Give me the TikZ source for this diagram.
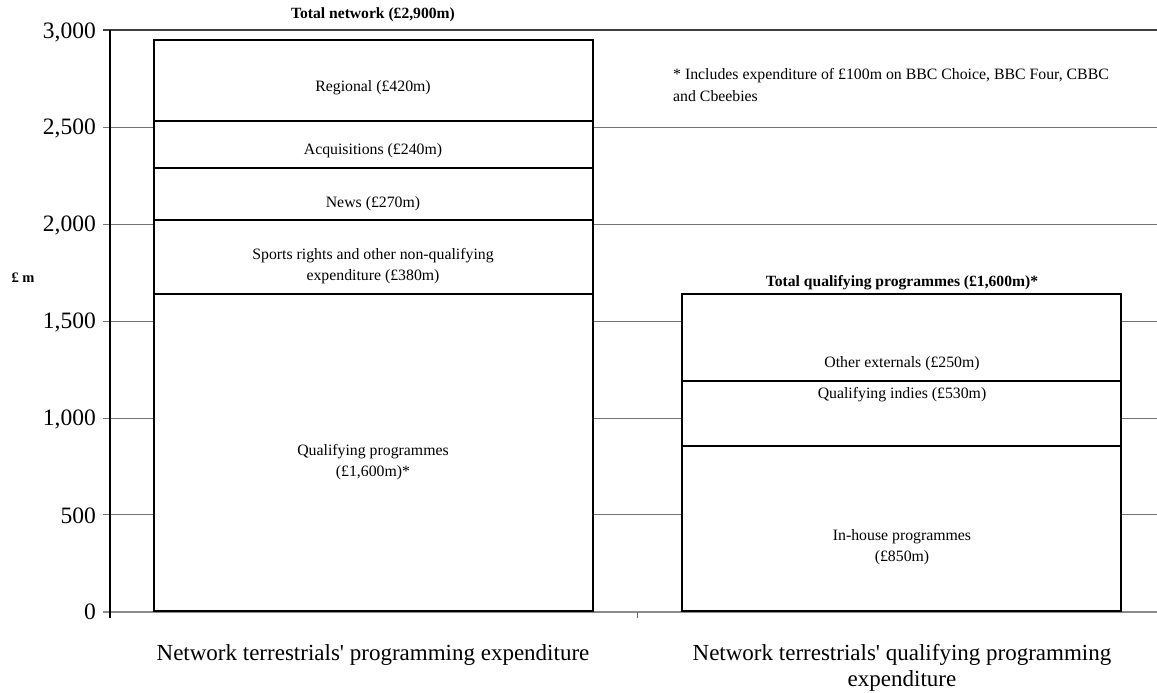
\documentclass[tikz,border=0pt]{standalone}
\usepackage{fontspec}
\setmainfont{Liberation Serif}
\begin{document}
\begin{tikzpicture}[x=1pt,y=-1pt,
  grid/.style={draw=black!55,line width=0.9pt},
  seg/.style={draw=black,fill=white,line width=1.6pt},
  div/.style={draw=black,line width=2.6pt},
  lbl/.style={font=\fontsize{15.8}{21.5}\selectfont,align=center,inner sep=0pt},
  ttl/.style={font=\fontsize{15.6}{18}\selectfont\bfseries,inner sep=0pt},
  tick/.style={font=\fontsize{23.5}{26}\selectfont,anchor=east,inner sep=0pt},
  cat/.style={font=\fontsize{23}{26}\selectfont,align=center,inner sep=0pt}]
\useasboundingbox (0,0) rectangle (1157,693);
\fill[white] (0,0) rectangle (1157,693);
% gridlines
\foreach \yy in {127,224,321,418,514} \draw[grid] (103,\yy) -- (1157,\yy);
\draw[draw=black!75,line width=1.2pt] (103,30) -- (1157,30);
% axes
\draw[draw=black!45,line width=2.4pt] (103,612) -- (1157,612);
\draw[black,line width=1.4pt] (110,30) -- (110,618);
\draw[black!60,line width=0.8pt] (637,612) -- (637,618);
% bar 1
\draw[seg] (154,40) rectangle (593,611);
\draw[div] (154,121) -- (593,121);
\draw[div] (154,168) -- (593,168);
\draw[div] (154,220) -- (593,220);
\draw[div] (154,294) -- (593,294);
% bar 2
\draw[seg] (682,294) rectangle (1121,611);
\draw[div] (682,381) -- (1121,381);
\draw[div] (682,446) -- (1121,446);
% tick labels
\node[tick] (t3000) at (96,32) {3,000};
\node[tick] (t2500) at (96,128) {2,500};
\node[tick] (t2000) at (96,225) {2,000};
\node[tick] (t1500) at (96,322) {1,500};
\node[tick] (t1000) at (96,419) {1,000};
\node[tick] (t500) at (96,516) {500};
\node[tick] (t0) at (96,612) {0};
\node[ttl,font=\fontsize{14.5}{17}\selectfont\bfseries] (unit) at (23,278) {£ m};
% labels bar 1
\node[ttl] (tot1) at (373,15) {Total network (£2,900m)};
\node[lbl] (reg) at (373,88) {Regional (£420m)};
\node[lbl] (acq) at (373,151) {Acquisitions (£240m)};
\node[lbl] (news) at (373,204) {News (£270m)};
\node[lbl] (sport) at (373,266) {Sports rights and other non-qualifying\\expenditure (£380m)};
\node[lbl] (qual) at (373,462) {Qualifying programmes\\(£1,600m)*};
% labels bar 2
\node[ttl] (tot2) at (902,283) {Total qualifying programmes (£1,600m)*};
\node[lbl] (oth) at (902,364) {Other externals (£250m)};
\node[lbl] (ind) at (902,395) {Qualifying indies (£530m)};
\node[lbl] (inh) at (902,547) {In-house programmes\\(£850m)};
% footnote
\node[lbl,align=left,anchor=west] (note) at (673,85) {* Includes expenditure of £100m on BBC Choice, BBC Four, CBBC\\and Cbeebies};
% categories
\node[cat] (c1) at (373,655) {Network terrestrials\textquotesingle{} programming expenditure};
\node[cat] (c2) at (902,668) {Network terrestrials\textquotesingle{} qualifying programming\\expenditure};
\end{tikzpicture}
\end{document}
